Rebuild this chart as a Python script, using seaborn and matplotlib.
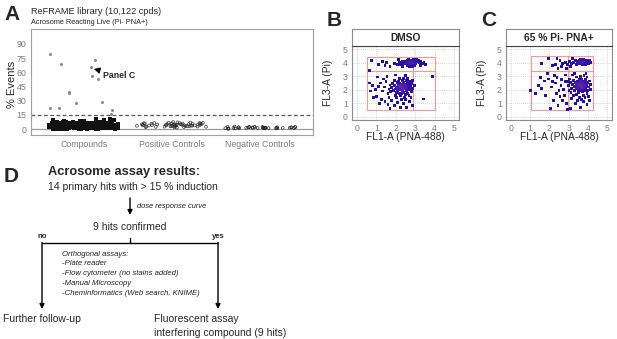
import numpy as np
import pandas as pd
import matplotlib
matplotlib.use("Agg")
import matplotlib.pyplot as plt
import seaborn as sns
from matplotlib.colors import LinearSegmentedColormap

# ---- Panel A data: % events (Pi- PNA+) per well ----
groups = ["Compounds", "Positive Controls", "Negative Controls"]
hits = [78.8, 73.2, 69.0, 65.5, 56.0, 52.9, 38.5, 39.2, 28.7, 28.0, 22.1, 19.6, 21.7, 15.4]
compounds_bulk = [
    0.3, 1.2, 2.5, 3.8, 4.6, 5.9, 6.4, 0.8, 1.9, 2.7, 3.1, 4.2, 5.3, 6.8, 0.5, 1.5, 2.2, 3.6, 4.9, 5.5,
    6.1, 7.0, 0.9, 1.7, 2.9, 3.3, 4.4, 5.1, 6.6, 0.2, 1.1, 2.0, 3.0, 4.0, 5.0, 6.0, 6.9, 0.6, 1.4, 2.4,
    3.5, 4.7, 5.7, 6.3, 0.4, 1.6, 2.8, 3.9, 4.1, 5.2, 6.2, 7.2, 1.0, 2.1, 3.2, 4.3, 5.4, 6.5, 0.7, 1.8,
    2.6, 3.7, 4.8, 5.8, 6.7, 0.1, 1.3, 2.3, 3.4, 4.5, 5.6, 6.0, 0.9, 1.9, 2.9, 3.9, 4.9, 5.9, 6.9, 0.5,
    1.5, 2.5, 3.5, 4.5, 5.5, 6.5, 0.2, 1.2, 2.2, 3.2, 4.2, 5.2, 6.2, 0.8, 1.8, 2.8, 3.8, 4.8, 5.8, 6.8,
    0.4, 1.4, 2.4, 3.4, 4.4, 5.4, 6.4, 0.6, 1.6, 2.6, 3.6, 4.6, 5.6, 6.6, 0.3, 1.3, 2.3, 3.3, 4.3, 5.3,
    6.3, 7.1, 0.7, 1.7, 2.7, 3.7, 4.7, 5.7, 6.7, 1.1, 2.1, 3.1, 4.1, 5.1, 6.1, 0.5, 2.0, 3.0, 4.0, 5.0,
    6.0, 1.0, 2.5, 3.5, 4.5, 5.5, 6.5, 0.9, 1.9, 2.9, 3.9, 4.9, 5.9, 0.3, 1.6, 2.6, 3.6, 4.6, 5.6, 6.6,
    1.1, 2.4, 3.7, 4.0, 5.3, 6.2, 0.6, 1.8, 2.9, 3.2, 4.5, 5.6, 6.4, 0.4, 1.4, 2.1, 3.5, 4.8, 5.1, 6.7,
    0.8, 1.6, 2.7, 3.0, 4.3, 5.8, 6.1, 0.2, 1.0, 2.3, 3.8, 4.1, 5.4, 6.5, 0.7, 1.9, 2.6, 3.4, 4.7, 5.0,
    6.3, 0.5, 1.3, 2.2, 3.6, 4.4, 5.7, 6.8, 0.9, 1.5, 2.8, 3.1, 4.9, 5.2, 6.0, 0.3, 1.7, 2.5, 3.9, 4.2,
    5.5, 6.6, 0.1, 1.2, 2.0, 3.3, 4.6, 5.9, 6.9, 0.6, 1.1, 2.4, 3.7, 4.0, 5.3, 6.2, 0.4, 1.8, 2.9, 3.2,
    4.5, 5.6, 6.4, 1.4, 2.1, 3.5, 4.8, 5.1, 6.7, 0.8, 1.6, 2.7, 3.0, 4.3, 5.8, 6.1, 1.0, 2.3, 3.8, 4.1,
    8.2, 9.0, 10.3, 8.7, 9.6, 7.8, 8.4, 10.8, 9.2, 8.0, 7.6, 8.9, 7.9, 9.4,
]
positive_ctrl = [
    3.2, 4.5, 5.1, 2.8, 6.0, 3.9, 4.8, 5.6, 2.2, 3.5, 4.1, 6.4, 5.3, 2.6, 3.0, 4.7, 5.9, 6.8, 3.7, 4.3,
    2.0, 5.0, 6.2, 3.3, 4.0, 5.5, 2.4, 3.8, 4.6, 7.1, 5.8, 2.9, 3.6, 4.9, 6.6, 1.8, 3.1, 4.4, 5.2, 6.1,
    2.7, 3.4, 5.7, 4.2, 7.4, 1.5, 3.9, 5.4, 6.3, 2.5, 3.0, 4.4, 5.0, 2.3, 6.5, 3.6,
]
negative_ctrl = [
    0.8, 1.5, 2.1, 0.5, 1.2, 1.9, 2.4, 0.9, 1.6, 1.1, 0.7, 1.8, 2.2, 1.3, 0.6, 1.4, 2.0, 1.0, 1.7, 2.6,
    0.4, 1.2, 1.9, 0.8, 1.5, 2.3, 1.1, 0.9, 1.6, 2.0, 1.3, 0.7, 1.8, 1.4, 2.5, 1.0, 0.6, 1.7, 2.1, 1.2,
]

# ---- Panel B data: DMSO, FL1-A vs FL3-A ----
b_x = [
    2.55, 2.62, 2.70, 2.78, 2.85, 2.90, 2.95, 3.02, 3.10, 2.68, 2.75, 2.82, 2.60, 2.50, 2.45, 2.40, 2.33, 2.25, 2.20, 3.15,
    3.22, 3.30, 3.38, 3.45, 3.52, 3.25, 2.98, 2.88, 2.72, 2.58, 2.35, 2.10, 1.95, 2.15, 2.65, 2.92, 3.05, 2.80, 2.72, 2.86,
    0.75, 1.10, 1.45, 1.52, 1.70, 1.30, 0.65, 3.89, 3.43,
    2.30, 2.20, 2.40, 2.35, 2.25, 2.15, 2.45, 2.50, 2.10, 2.05, 2.55, 2.60, 2.32, 2.22, 2.42, 2.28, 2.12, 1.98, 2.65, 2.70,
    2.38, 2.18, 2.48, 2.58, 1.92, 2.02, 2.75, 2.80, 2.62, 2.08, 1.88, 2.35, 2.55, 2.25, 2.45, 2.72, 1.80, 1.85, 2.15, 2.68,
    2.82, 1.75, 2.00, 2.40, 2.60, 2.85, 1.70, 2.20, 2.52, 2.30, 1.95, 2.78, 2.88, 1.65, 2.05, 1.60, 2.27, 2.37, 2.17, 2.47,
    2.33, 2.43, 2.13, 2.53, 2.23, 2.29, 2.39, 2.19, 2.49, 2.09,
    1.50, 1.40, 1.30, 1.20, 1.10, 0.95, 0.80, 0.70, 0.65, 1.00, 1.25, 1.45, 1.60, 1.80, 1.95, 2.10, 2.25, 2.40, 2.55, 2.70,
    2.85, 1.70, 1.35, 1.55, 1.05, 0.85, 1.15, 2.00, 2.50, 1.65, 2.95,
]
b_y = [
    4.05, 3.98, 4.10, 4.02, 3.95, 4.12, 4.05, 3.98, 4.08, 3.90, 3.85, 4.18, 4.15, 3.92, 4.08, 3.98, 4.12, 3.88, 4.02, 4.20,
    4.00, 4.12, 3.95, 4.05, 3.90, 3.82, 3.80, 3.75, 3.72, 3.80, 3.70, 3.85, 3.95, 4.25, 4.25, 4.28, 4.22, 4.05, 4.00, 4.06,
    4.15, 3.90, 3.78, 4.02, 3.70, 4.10, 3.45, 2.99, 1.31,
    2.10, 2.00, 2.20, 1.95, 2.25, 2.15, 2.05, 2.30, 1.90, 2.20, 1.95, 2.15, 2.40, 2.45, 1.80, 1.75, 2.35, 2.05, 2.40, 2.00,
    2.55, 1.70, 1.65, 2.55, 2.30, 1.80, 2.25, 1.85, 1.75, 2.55, 1.95, 2.70, 2.70, 1.55, 1.45, 2.60, 2.15, 2.45, 2.65, 1.55,
    2.45, 1.85, 1.60, 2.85, 2.85, 2.10, 2.35, 2.85, 1.30, 1.25, 2.70, 1.40, 2.70, 2.05, 1.40, 1.75, 2.18, 2.28, 2.05, 2.12,
    1.88, 2.38, 1.98, 2.02, 2.32, 1.98, 2.08, 2.22, 2.22, 2.12,
    2.60, 2.20, 1.90, 2.50, 2.25, 2.00, 2.30, 1.90, 2.50, 1.50, 1.30, 1.10, 0.90, 1.20, 0.80, 1.05, 0.70, 0.95, 0.65, 1.10,
    0.85, 0.60, 2.80, 3.00, 2.95, 1.40, 0.95, 3.10, 3.05, 1.45, 2.30,
]

# ---- Panel C data: 65 % Pi- PNA+ compound ----
c_x = [
    3.60, 3.70, 3.80, 3.75, 3.65, 3.85, 3.90, 3.95, 4.00, 3.55, 3.50, 3.62, 3.78, 3.88, 4.05, 4.10, 3.45, 3.40, 3.70, 3.82,
    3.68, 3.58, 3.92, 3.35, 3.25, 3.15, 3.05, 2.95, 2.85, 2.70, 2.55, 2.40, 2.30, 2.15, 2.65, 2.90, 3.10, 3.20, 4.15, 3.72,
    1.60, 1.95, 2.45,
    3.60, 3.70, 3.50, 3.80, 3.65, 3.55, 3.75, 3.45, 3.85, 3.40, 3.90, 3.35, 3.95, 3.62, 3.72, 3.52, 3.82, 3.30, 4.00, 3.25,
    3.58, 3.68, 3.88, 3.48, 3.20, 4.05, 3.42, 3.78, 3.95, 3.15, 3.10, 4.10, 3.32, 4.15, 3.05, 3.60, 3.80, 3.40, 3.95, 3.20,
    3.55, 3.85, 3.65, 3.25, 4.05, 3.45, 3.75, 3.00, 3.12, 4.15, 3.63, 3.73, 3.53, 3.83, 3.67, 3.57, 3.77, 3.47, 3.87, 3.70,
    3.62, 3.52, 3.92, 3.38, 3.58, 3.68, 3.78, 3.48, 3.88, 3.42, 3.02, 2.98, 3.15, 3.35, 3.60, 3.95, 4.10, 3.90, 3.30, 4.00,
    1.02, 1.45, 1.96, 2.30, 2.55, 1.60, 1.80, 2.10, 2.20, 2.40, 2.60, 2.75, 2.85, 2.70, 2.45, 2.05, 1.75, 1.30, 2.65, 2.80,
    2.90, 2.50, 2.25, 1.90, 2.95, 3.10, 2.35, 2.15, 2.85, 1.55,
]
c_y = [
    4.05, 4.10, 4.00, 3.95, 3.92, 4.15, 4.05, 3.98, 4.10, 4.15, 3.95, 4.22, 4.25, 3.88, 3.92, 4.20, 4.08, 3.90, 3.85, 4.08,
    4.02, 3.98, 4.18, 4.15, 4.00, 3.95, 4.10, 3.90, 4.05, 3.98, 4.20, 4.30, 3.85, 3.80, 3.70, 3.60, 3.75, 4.30, 4.00, 4.00,
    3.98, 4.35, 3.60,
    2.30, 2.40, 2.20, 2.25, 2.10, 2.50, 2.60, 2.35, 2.45, 2.05, 2.10, 2.55, 2.35, 1.90, 1.85, 1.80, 1.95, 2.25, 2.55, 2.70,
    2.75, 2.80, 2.75, 2.65, 2.40, 2.20, 1.65, 1.60, 1.75, 2.10, 2.55, 2.65, 1.95, 2.00, 2.80, 3.00, 3.05, 2.95, 2.95, 3.10,
    1.45, 1.40, 1.30, 1.55, 1.50, 1.20, 1.10, 2.30, 1.80, 2.40, 2.20, 2.30, 2.40, 2.35, 2.50, 2.10, 2.15, 2.45, 2.20, 2.65,
    2.60, 2.00, 2.50, 2.25, 2.35, 2.25, 2.45, 2.15, 2.60, 2.45, 1.95, 2.60, 1.35, 0.95, 0.70, 0.90, 1.20, 3.20, 3.20, 1.95,
    1.97, 2.30, 2.80, 2.50, 1.50, 2.10, 1.60, 2.20, 1.20, 2.90, 2.30, 2.00, 2.60, 1.20, 0.80, 0.60, 2.65, 1.70, 2.75, 1.60,
    1.00, 1.95, 3.05, 3.20, 0.55, 0.60, 1.75, 2.60, 3.10, 2.90,
]

# gate lines (FL1-A / FL3-A positions)
b_gate_x = [0.5, 2.87, 4.0]
b_gate_y = [0.5, 3.36, 4.45]
c_gate_x = [1.05, 2.95, 4.25]
c_gate_y = [0.5, 3.36, 4.5]

# ---- setup ----
sns.set_style("white")
plt.rcParams["font.family"] = ["Liberation Sans", "DejaVu Sans"]
W, H = 617, 339
fig = plt.figure(figsize=(W / 100, H / 100), dpi=100)


def box(l, t, r, b):
    return [l / W, 1 - b / H, (r - l) / W, (b - t) / H]


def ftext(x, y, s, **kw):
    fig.text(x / W, 1 - y / H, s, **kw)


grey = "#7a7a7a"

# ---- Panel A ----
axA = fig.add_axes(box(31, 29, 313, 135))
dfC = pd.DataFrame({"group": ["Compounds"] * len(compounds_bulk), "pct": compounds_bulk})
dfK = pd.DataFrame({
    "group": ["Positive Controls"] * len(positive_ctrl) + ["Negative Controls"] * len(negative_ctrl),
    "pct": positive_ctrl + negative_ctrl,
})
dfH = pd.DataFrame({"group": ["Compounds"] * len(hits), "pct": hits})
np.random.seed(3)
sns.stripplot(data=dfC, x="group", y="pct", order=groups, jitter=0.4, size=2.2, marker="s",
              color="#111111", linewidth=0, ax=axA)
sns.stripplot(data=dfK, x="group", y="pct", order=groups, jitter=0.4, size=2.0,
              color="black", facecolor="none", edgecolor="#222222", linewidth=0.45, ax=axA)
n_before = len(axA.collections)
sns.stripplot(data=dfH, x="group", y="pct", order=groups, jitter=0.4, size=2.2,
              color="#8a8a8a", linewidth=0, ax=axA)
pts = np.vstack([c.get_offsets() for c in axA.collections[n_before:] if len(c.get_offsets())])
k = int(np.argmin(np.abs(pts[:, 1] - 65.5)))
px, py = pts[k]
axA.annotate("Panel C", xy=(px + 0.03, py - 2), xytext=(px + 0.13, py - 9),
             fontsize=6.3, fontweight="bold", va="center", ha="left",
             arrowprops=dict(arrowstyle="-|>", color="black", lw=0.8, mutation_scale=9,
                             shrinkA=0, shrinkB=0))
axA.axhline(15, color="#555555", lw=0.9, ls=(0, (3, 2)), zorder=1)
axA.axhline(0, color="#9a9a9a", lw=0.9, zorder=1)
axA.set_xlim(-0.6, 2.6)
axA.set_ylim(-6.3, 105.7)
axA.set_yticks(range(0, 91, 15))
axA.set_xlabel("")
axA.set_ylabel("")
axA.tick_params(axis="both", labelsize=6.3, colors=grey, length=2, width=0.6, pad=1.5)
axA.tick_params(axis="both", labelcolor=grey)
for sp in axA.spines.values():
    sp.set_color("#a0a0a0")
    sp.set_linewidth(0.8)
ftext(12, 84, "% Events", rotation=90, fontsize=8, ha="center", va="center")
ftext(31, 12, "ReFRAME library (10,122 cpds)", fontsize=6.6, va="center")
ftext(31, 23, "Acrosome Reacting Live (Pi- PNA+)", fontsize=5.3, va="center")

# ---- Panels B and C ----
cmap = LinearSegmentedColormap.from_list("dens", ["#24109c", "#3312a6", "#6226a6"])


def flow_panel(l, r, xs, ys, gx, gy, title):
    ax = fig.add_axes(box(l, 46, r, 120))
    sax = fig.add_axes(box(l, 29, r, 46))
    xs = np.array(xs)
    ys = np.array(ys)
    d = np.hypot(xs[:, None] - xs[None, :], ys[:, None] - ys[None, :])
    dens = (d < 0.35).sum(axis=1)
    ax.grid(True, color="#c8c8c8", lw=0.6, ls=(0, (1, 1.5)))
    ax.set_axisbelow(True)
    ax.vlines(gx, gy[0], gy[-1], color="#f29a9a", lw=0.8, zorder=2)
    ax.hlines(gy, gx[0], gx[-1], color="#f29a9a", lw=0.8, zorder=2)
    sns.scatterplot(x=xs, y=ys, hue=dens, palette=cmap, hue_norm=(4, 30), marker="s",
                    s=4.2, linewidth=0, legend=False, ax=ax, zorder=3)
    ax.set_xlim(-0.25, 5.25)
    ax.set_ylim(-0.25, 5.25)
    ax.set_xticks(range(6))
    ax.set_yticks(range(6))
    ax.tick_params(axis="both", labelsize=6.3, colors=grey, labelcolor=grey, length=2, width=0.6, pad=1)
    for sp in ax.spines.values():
        sp.set_color("#8a8a8a")
        sp.set_linewidth(0.8)
    sax.set_xticks([])
    sax.set_yticks([])
    sax.set_facecolor("white")
    for sp in sax.spines.values():
        sp.set_color("#8a8a8a")
        sp.set_linewidth(0.8)
    sax.spines["bottom"].set_color("#444444")
    sax.text(0.5, 0.45, title, transform=sax.transAxes, ha="center", va="center",
             fontsize=7.4, fontweight="bold")
    ftext((l + r) / 2, 137, "FL1-A (PNA-488)", fontsize=7.4, ha="center", va="center")
    ftext(l - 24, 83, "FL3-A (Pi)", fontsize=7.4, rotation=90, ha="center", va="center")
    return ax


flow_panel(352, 459, b_x, b_y, b_gate_x, b_gate_y, "DMSO")
flow_panel(506, 612, c_x, c_y, c_gate_x, c_gate_y, "65 % Pi- PNA+")

# ---- panel letters ----
for lx, ly, s in [(4, 15, "A"), (327, 20, "B"), (481, 20, "C"), (4, 176, "D")]:
    ftext(lx, ly, s, fontsize=15, fontweight="bold", va="center")

# ---- Panel D: flowchart ----
axD = fig.add_axes([0, 0, 1, 1], zorder=-1)
axD.set_xlim(0, W)
axD.set_ylim(H, 0)
axD.axis("off")
arrow = dict(arrowstyle="-|>", color="black", lw=1.0, mutation_scale=7, shrinkA=0, shrinkB=0)
ftext(48, 172, "Acrosome assay results:", fontsize=9.3, fontweight="bold", va="center")
ftext(48, 187, "14 primary hits with > 15 % induction", fontsize=7.5, va="center")
axD.annotate("", xy=(130, 215), xytext=(130, 198), arrowprops=arrow)
ftext(137, 207, "dose response curve", fontsize=5.4, style="italic", va="center", color="#222222")
ftext(130, 227, "9 hits confirmed", fontsize=7.5, ha="center", va="center")
axD.plot([42, 218], [243, 243], color="black", lw=1.0)
axD.plot([130, 130], [238, 243], color="black", lw=1.0)
ftext(42, 237, "no", fontsize=5.6, fontweight="bold", ha="center", va="center")
ftext(218, 237, "yes", fontsize=5.6, fontweight="bold", ha="center", va="center")
axD.annotate("", xy=(42, 309), xytext=(42, 242.5), arrowprops=arrow)
axD.annotate("", xy=(218, 309), xytext=(218, 242.5), arrowprops=arrow)
ortho = ["Orthogonal assays:", "-Plate reader", "-Flow cytometer (no stains added)",
         "-Manual Microscopy", "-Cheminformatics (Web search, KNIME)"]
for i, line in enumerate(ortho):
    ftext(62, 254 + i * 9.8, line, fontsize=5.6, style="italic", va="center", color="#222222")
ftext(3, 319, "Further follow-up", fontsize=7.5, va="center")
ftext(154, 319, "Fluorescent assay", fontsize=7.5, va="center")
ftext(154, 333, "interfering compound (9 hits)", fontsize=7.5, va="center")

fig.savefig("out.png", dpi=100)
